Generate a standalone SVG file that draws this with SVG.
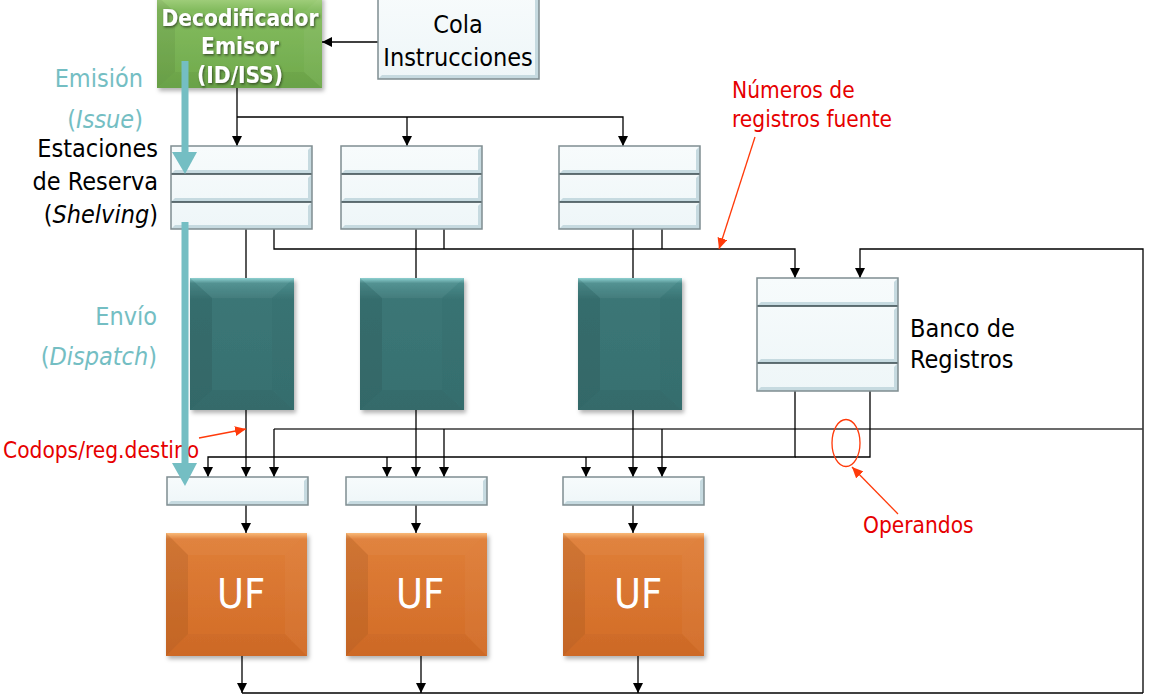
<svg xmlns="http://www.w3.org/2000/svg" xmlns:xlink="http://www.w3.org/1999/xlink" width="1154" height="700" viewBox="0 0 1154 700">
<style>
.t{font-family:"DejaVu Sans Condensed","DejaVu Sans",sans-serif;}
.blk{font-size:25px;fill:#000;}
.teal{font-size:25px;fill:#74BEC3;}
.red{font-size:22.5px;fill:#E60000;}
.dec{font-size:22.5px;font-weight:bold;fill:#fff;}
.uf{font-size:41px;fill:#fff;}
.cell{fill:url(#cellG);}
.bev{fill:#C6DAE0;}
.frame{fill:none;stroke:#7F8D91;stroke-width:1.5;}
.div{stroke:#34454A;stroke-width:1.5;}
.c{fill:none;stroke:#000;stroke-width:1.3;}
.bus{fill:none;stroke:#3a3a3a;stroke-width:1.6;}
.ca{fill:none;stroke:#000;stroke-width:1.3;marker-end:url(#ah);}
.ra{fill:none;stroke:#FF3A0A;stroke-width:1.3;marker-end:url(#rh);}
</style>
<defs>
<marker id="ah" markerUnits="userSpaceOnUse" markerWidth="10" markerHeight="10" refX="10" refY="5" orient="auto"><path d="M0,0 L10,5 L0,10 z" fill="#000"/></marker>
<marker id="rh" markerUnits="userSpaceOnUse" markerWidth="11" markerHeight="10" refX="11" refY="5" orient="auto"><path d="M0,0 L11,5 L0,10 z" fill="#FF3A0A"/></marker>
<linearGradient id="cellG" x1="0" y1="0" x2="0" y2="1"><stop offset="0" stop-color="#F7FBFC"/><stop offset="1" stop-color="#EEF6F8"/></linearGradient>
<linearGradient id="tealG" x1="0" y1="0" x2="0" y2="1"><stop offset="0" stop-color="#8ACFCF"/><stop offset="0.04" stop-color="#4C8E8E"/><stop offset="0.16" stop-color="#3B7676"/><stop offset="1" stop-color="#377070"/></linearGradient>
<linearGradient id="ufG" x1="0" y1="0" x2="0" y2="1"><stop offset="0" stop-color="#F9B673"/><stop offset="0.05" stop-color="#DF7E38"/><stop offset="1" stop-color="#D26C27"/></linearGradient>
<linearGradient id="grG" x1="0" y1="0" x2="0" y2="1"><stop offset="0" stop-color="#A8D383"/><stop offset="0.15" stop-color="#84BC5F"/><stop offset="1" stop-color="#6FA94B"/></linearGradient>
<filter id="sh" x="-10%" y="-10%" width="130%" height="130%"><feDropShadow dx="2" dy="3" stdDeviation="2" flood-color="#000" flood-opacity="0.3"/></filter>
<filter id="tsh" x="-10%" y="-20%" width="130%" height="160%"><feDropShadow dx="1" dy="1.5" stdDeviation="1" flood-color="#2a3a20" flood-opacity="0.8"/></filter>
<g id="tealShape">
<rect width="104" height="132" fill="url(#tealG)"/>
<polygon points="0,0 22,20 22,112 0,132" fill="#000" opacity="0.07"/>
<polygon points="104,0 104,132 82,112 82,20" fill="#000" opacity="0.02"/>
<polygon points="0,132 104,132 82,112 22,112" fill="#000" opacity="0.04"/>
<polygon points="0,0 104,0 82,20 22,20" fill="#fff" opacity="0.04"/>
</g>
<g id="ufShape">
<rect width="141" height="123" fill="url(#ufG)"/>
<polygon points="0,0 22,22 22,101 0,123" fill="#000" opacity="0.07"/>
<polygon points="141,0 141,123 119,101 119,22" fill="#fff" opacity="0.03"/>
<polygon points="0,123 141,123 119,101 22,101" fill="#000" opacity="0.02"/>
<polygon points="0,0 141,0 119,22 22,22" fill="#fff" opacity="0.04"/>
</g>
</defs>
<rect width="1154" height="700" fill="#fff"/>

<g id="connectors">
<path class="ca" d="M378,42 H322"/>
<path class="ca" d="M237,88 V146"/>
<path class="ca" d="M237,117 H623 V146"/>
<path class="ca" d="M407,117 V146"/>
<path class="c" d="M246,229 V278 M416,229 V278 M633,229 V278"/>
<path class="ca" d="M274,229 V249 H795 V278"/>
<path class="c" d="M444,229 V249 M662,229 V249"/>
<path class="ca" d="M1143,693 V249 H860 V278"/>
<path class="bus" d="M1143,429 H274"/>
<path class="ca" d="M274,429 V477"/>
<path class="ca" d="M444,429 V477"/>
<path class="ca" d="M662,429 V477"/>
<path class="ca" d="M246,410 V477"/>
<path class="ca" d="M416,410 V477"/>
<path class="ca" d="M633,410 V477"/>
<path class="ca" d="M795,391 V457 H208 V477"/>
<path class="c" d="M870,391 V457 H795"/>
<path class="ca" d="M387,457 V477"/>
<path class="ca" d="M586,457 V477"/>
<path class="ca" d="M246,505 V533"/>
<path class="ca" d="M416,505 V533"/>
<path class="ca" d="M633,505 V533"/>
<path class="c" d="M242,693 H1143"/>
<path class="ca" d="M242,656 V693"/>
<path class="ca" d="M421,656 V693"/>
<path class="ca" d="M638,656 V693"/>
</g>

<g id="decoder">
<g filter="url(#sh)">
<rect x="157" y="-4" width="165" height="92" fill="url(#grG)"/>
<polygon points="157,-4 175,12 175,72 157,88" fill="#000" opacity="0.06"/>
<polygon points="322,-4 322,88 304,72 304,12" fill="#fff" opacity="0.04"/>
<polygon points="157,88 322,88 304,72 175,72" fill="#000" opacity="0.04"/>
</g>
<g class="t dec" text-anchor="middle" filter="url(#tsh)">
<text x="240" y="26">Decodificador</text>
<text x="240" y="54">Emisor</text>
<text x="240" y="83">(ID/ISS)</text>
</g>
</g>

<g id="cola">
<rect class="cell" x="378" y="-6" width="161" height="85"/>
<path class="bev" d="M539,-6 v85 h-161 l4,-4 h153 v-77 z"/>
<rect class="frame" x="378" y="-6" width="161" height="85"/>
<text class="t blk" x="458" y="33" text-anchor="middle">Cola</text>
<text class="t blk" x="458" y="66" text-anchor="middle">Instrucciones</text>
</g>

<g id="rs1">
<rect class="cell" x="171" y="146" width="141" height="83"/>
<path class="bev" d="M312,146 v28 h-141 l4,-4 h133 v-20 z M312,174 v28 h-141 l4,-4 h133 v-20 z M312,202 v27 h-141 l4,-4 h133 v-19 z"/>
<path class="div" d="M171,174 H312 M171,202 H312"/>
<rect class="frame" x="171" y="146" width="141" height="83"/>
</g>
<g id="rs2">
<rect class="cell" x="341" y="146" width="141" height="83"/>
<path class="bev" d="M482,146 v28 h-141 l4,-4 h133 v-20 z M482,174 v28 h-141 l4,-4 h133 v-20 z M482,202 v27 h-141 l4,-4 h133 v-19 z"/>
<path class="div" d="M341,174 H482 M341,202 H482"/>
<rect class="frame" x="341" y="146" width="141" height="83"/>
</g>
<g id="rs3">
<rect class="cell" x="559" y="146" width="141" height="83"/>
<path class="bev" d="M700,146 v28 h-141 l4,-4 h133 v-20 z M700,174 v28 h-141 l4,-4 h133 v-20 z M700,202 v27 h-141 l4,-4 h133 v-19 z"/>
<path class="div" d="M559,174 H700 M559,202 H700"/>
<rect class="frame" x="559" y="146" width="141" height="83"/>
</g>

<g id="banco">
<rect class="cell" x="757" y="278" width="141" height="113"/>
<path class="bev" d="M898,278 v28 h-141 l4,-4 h133 v-20 z M898,306 v57 h-141 l4,-4 h133 v-49 z M898,363 v28 h-141 l4,-4 h133 v-20 z"/>
<path class="div" d="M757,306 H898 M757,363 H898"/>
<rect class="frame" x="757" y="278" width="141" height="113"/>
<text class="t blk" x="910" y="337">Banco de</text>
<text class="t blk" x="910" y="368">Registros</text>
</g>

<g id="teal1" filter="url(#sh)"><use xlink:href="#tealShape" x="190" y="278"/></g>
<g id="teal2" filter="url(#sh)"><use xlink:href="#tealShape" x="360" y="278"/></g>
<g id="teal3" filter="url(#sh)"><use xlink:href="#tealShape" x="578" y="278"/></g>

<g id="disp1">
<rect class="cell" x="167" y="477" width="141" height="28"/>
<path class="bev" d="M308,477 v28 h-141 l4,-4 h133 v-20 z"/>
<rect class="frame" x="167" y="477" width="141" height="28"/>
</g>
<g id="disp2">
<rect class="cell" x="346" y="477" width="141" height="28"/>
<path class="bev" d="M487,477 v28 h-141 l4,-4 h133 v-20 z"/>
<rect class="frame" x="346" y="477" width="141" height="28"/>
</g>
<g id="disp3">
<rect class="cell" x="563" y="477" width="141" height="28"/>
<path class="bev" d="M704,477 v28 h-141 l4,-4 h133 v-20 z"/>
<rect class="frame" x="563" y="477" width="141" height="28"/>
</g>

<g id="uf1"><g filter="url(#sh)"><use xlink:href="#ufShape" x="166" y="533"/></g><text class="t uf" x="241" y="608" text-anchor="middle">UF</text></g>
<g id="uf2"><g filter="url(#sh)"><use xlink:href="#ufShape" x="346" y="533"/></g><text class="t uf" x="420" y="608" text-anchor="middle">UF</text></g>
<g id="uf3"><g filter="url(#sh)"><use xlink:href="#ufShape" x="563" y="533"/></g><text class="t uf" x="638" y="608" text-anchor="middle">UF</text></g>

<g id="labels">
<text class="t teal" x="143" y="87" text-anchor="end">Emisión</text>
<text class="t teal" x="143" y="128" text-anchor="end">(<tspan font-style="italic">Issue</tspan>)</text>
<text class="t blk" x="158" y="157" text-anchor="end">Estaciones</text>
<text class="t blk" x="158" y="190" text-anchor="end">de Reserva</text>
<text class="t blk" x="158" y="223" text-anchor="end">(<tspan font-style="italic">Shelving</tspan>)</text>
<text class="t teal" x="157" y="325" text-anchor="end">Envío</text>
<text class="t teal" x="157" y="365" text-anchor="end">(<tspan font-style="italic">Dispatch</tspan>)</text>
</g>

<g id="annotations">
<text class="t red" x="732" y="98">Números de</text>
<text class="t red" x="732" y="127">registros fuente</text>
<path class="ra" d="M755,137 L719,249"/>
<text class="t red" x="3" y="458">Codops/reg.destino</text>
<path class="ra" d="M199,438 L246,429"/>
<ellipse cx="846" cy="443" rx="14" ry="23.5" fill="none" stroke="#FF3A0A" stroke-width="1.3"/>
<text class="t red" x="863" y="533">Operandos</text>
<path class="ra" d="M898,514 L852,467"/>
</g>

<g id="stage-arrows" fill="#74BEC3">
<rect x="181.5" y="61" width="7" height="92"/>
<polygon points="172,152 197,152 185,174"/>
<rect x="181.5" y="222" width="7" height="242"/>
<polygon points="172,463 197,463 185,486"/>
</g>
</svg>
